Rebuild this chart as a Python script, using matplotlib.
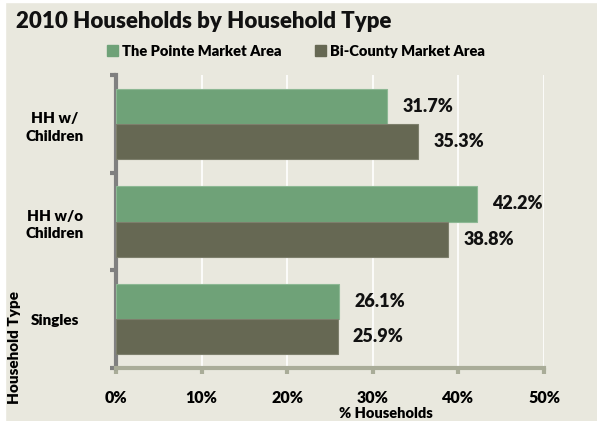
import matplotlib
matplotlib.use("Agg")
import matplotlib.pyplot as plt
from matplotlib.patches import Rectangle, Patch
import numpy as np

categories = ["HH w/\nChildren", "HH w/o\nChildren", "Singles"]
series_names = ["The Pointe Market Area", "Bi-County Market Area"]
pointe = [31.7, 42.2, 26.1]
bicounty = [35.3, 38.8, 25.9]
xticks = [0, 10, 20, 30, 40, 50]
xtick_labels = ["0%", "10%", "20%", "30%", "40%", "50%"]

BG = "#e9e8de"
GREEN = "#6fa278"
DARK = "#666853"
WT = "heavy"

plt.rcParams['font.family'] = ['Lato', 'DejaVu Sans']
plt.rcParams['font.weight'] = WT

W, H = 597, 421
fig = plt.figure(figsize=(W/100, H/100), dpi=100, facecolor=BG)
fig.patches.append(Rectangle((0, 0), 5/W, 1, transform=fig.transFigure, color="white", zorder=0))
fig.patches.append(Rectangle((0, 1-2/H), 1, 2/H, transform=fig.transFigure, color="white", zorder=0))

ax = fig.add_axes([116/W, 1-368/H, (544-116)/W, (368-75)/H])
ax.set_facecolor(BG)

n = len(categories)
ypos = np.arange(n)[::-1]
h = 0.36
b1 = ax.barh(ypos + h/2, pointe, height=h, color=GREEN, edgecolor="#8db894", linewidth=0.8, zorder=3)
b2 = ax.barh(ypos - h/2, bicounty, height=h, color=DARK, edgecolor="#7d7f6c", linewidth=0.8, zorder=3)

for bars, vals in ((b1, pointe), (b2, bicounty)):
    for bar, v in zip(bars, vals):
        ax.annotate(f"{v:.1f}%", xy=(v, bar.get_y() + bar.get_height()/2),
                    xytext=(15, 0), textcoords="offset pixels",
                    va="center", ha="left", fontsize=13, fontweight=WT, color="#111111", zorder=4)

ax.set_xlim(0, 50)
ax.set_ylim(-0.5, n - 0.5)
ax.set_xticks(xticks)
ax.set_xticklabels(xtick_labels, fontsize=11.5, fontweight=WT)
ax.set_yticks(ypos)
ax.set_yticklabels(categories, fontsize=11, fontweight=WT, ha="center", linespacing=1.45)
ax.tick_params(axis="y", length=0, pad=44)
ax.set_yticks(np.arange(-0.5, n, 1.0), minor=True)
ax.tick_params(axis="y", which="minor", length=4, width=3, color="#808080")
ax.tick_params(axis="x", length=4, width=3, color="#a9ac98", pad=12)

ax.grid(axis="x", color="white", linewidth=1.2, zorder=1)
ax.set_axisbelow(True)
for s in ("top", "right"):
    ax.spines[s].set_visible(False)
ax.spines["left"].set_color("#808080")
ax.spines["left"].set_linewidth(3)
ax.spines["bottom"].set_color("#a9ac98")
ax.spines["bottom"].set_linewidth(3)

fig.text(16/W, 1-22/H, "2010 Households by Household Type", fontsize=16, fontweight=WT,
         ha="left", va="center", color="#111111")
fig.text(386/W, 1-413/H, "% Households", fontsize=10.5, fontweight=WT, ha="center", va="center")
fig.text(15/W, 1-348/H, "Household Type", fontsize=11, fontweight=WT, ha="center", va="center", rotation=90)

handles = [Patch(color=GREEN), Patch(color=DARK)]
fig.legend(handles, series_names, loc="center", bbox_to_anchor=(296/W, 1-51/H), ncol=2, frameon=False,
           prop={"size": 10.5, "weight": WT}, handlelength=0.75, handleheight=0.75,
           handletextpad=0.3, columnspacing=2.3, borderpad=0)

fig.savefig("out.png", dpi=100, facecolor=BG)
